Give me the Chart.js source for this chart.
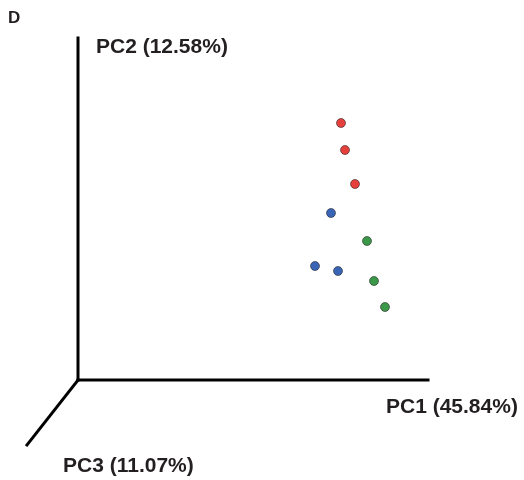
<!DOCTYPE html>
<html>
<head>
<meta charset="utf-8">
<script src="https://cdn.jsdelivr.net/npm/chart.js@4"></script>
<style>
  body { margin: 0; background: #fff; }
  #wrap { width: 524px; height: 480px; position: relative; }
</style>
</head>
<body>
<div id="wrap"><canvas id="pca"></canvas></div>
<script>
// PCA scores, projected (PC1 across, PC2 up)
const groupNames = ["Group A", "Group B", "Group C"];
const groupColors = ["#e5403c", "#3a64b5", "#3b9848"];
const pc1Scores = [
  [26.3, 26.7, 27.7],
  [25.3, 23.7, 26.0],
  [28.9, 29.6, 30.7]
];
const pc2Scores = [
  [25.7, 23.0, 19.6],
  [16.7, 11.4, 10.9],
  [13.9, 9.9, 7.3]
];
const axisLabels = ["PC1 (45.84%)", "PC2 (12.58%)", "PC3 (11.07%)"];
const panelLetter = "D";

// axis line ends in data units; PC3 points down-left out of the page
const pc1End = [35, 0];
const pc2End = [0, 34.2];
const pc3End = [-5.1, -6.5];

const datasets = groupNames.map((name, g) => ({
  label: name,
  data: pc1Scores[g].map((x, i) => ({ x: x, y: pc2Scores[g][i] })),
  backgroundColor: groupColors[g],
  borderColor: "rgba(30,30,30,0.55)",
  borderWidth: 1,
  pointRadius: 4.5,
  pointHoverRadius: 4.5
}));

const axesPlugin = {
  id: "axes3d",
  beforeDatasetsDraw(chart) {
    const ctx = chart.ctx;
    const xs = chart.scales.x, ys = chart.scales.y;
    const px = v => xs.getPixelForValue(v);
    const py = v => ys.getPixelForValue(v);
    ctx.save();
    ctx.strokeStyle = "#000";
    ctx.lineWidth = 3;
    ctx.lineCap = "square";
    [pc1End, pc2End, pc3End].forEach(e => {
      ctx.beginPath();
      ctx.moveTo(px(0), py(0));
      ctx.lineTo(px(e[0]), py(e[1]));
      ctx.stroke();
    });
    ctx.fillStyle = "#231f20";
    ctx.font = "bold 21px 'Liberation Sans', Arial, sans-serif";
    ctx.textBaseline = "middle";
    ctx.textAlign = "left";
    ctx.fillText(axisLabels[0], px(30.8), py(-2.7));
    ctx.fillText(axisLabels[1], px(1.8), py(33.3));
    ctx.fillText(axisLabels[2], px(-1.5), py(-8.6));
    ctx.font = "bold 17px 'Liberation Sans', Arial, sans-serif";
    ctx.fillText(panelLetter, 8, 18);
    ctx.restore();
  }
};

new Chart("pca", {
  type: "scatter",
  data: { datasets: datasets },
  options: {
    responsive: true,
    maintainAspectRatio: false,
    animation: false,
    layout: { padding: 0, autoPadding: false },
    plugins: { legend: { display: false }, tooltip: { enabled: false } },
    scales: {
      x: { display: false, min: -7.8, max: 44.6 },
      y: { display: false, min: -10, max: 38 }
    }
  },
  plugins: [axesPlugin]
});
</script>
</body>
</html>
